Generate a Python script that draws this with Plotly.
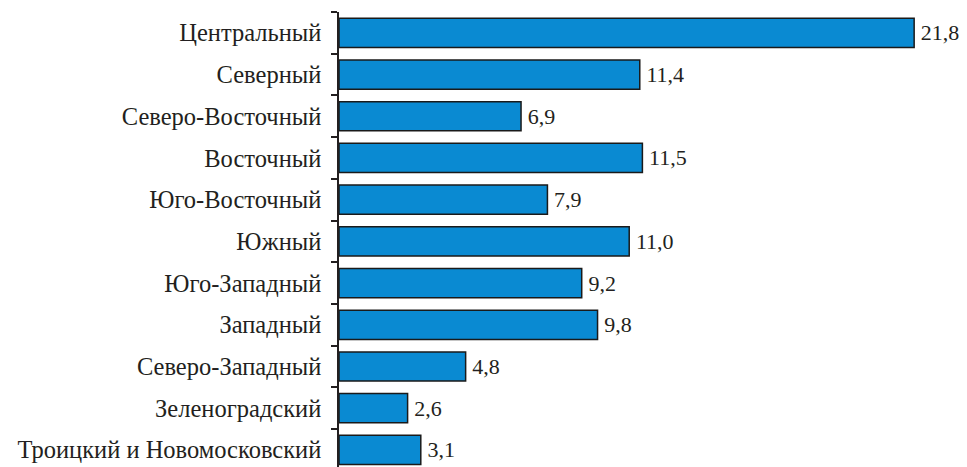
import plotly.graph_objects as go

categories = ["Центральный", "Северный", "Северо-Восточный", "Восточный", "Юго-Восточный",
              "Южный", "Юго-Западный", "Западный", "Северо-Западный", "Зеленоградский",
              "Троицкий и Новомосковский"]
values = [21.8, 11.4, 6.9, 11.5, 7.9, 11.0, 9.2, 9.8, 4.8, 2.6, 3.1]
labels = ["\u2006" + f"{v:.1f}".replace(".", ",") for v in values]

font = "Liberation Serif"

fig = go.Figure(go.Bar(
    y=categories, x=values, orientation="h",
    text=labels, textposition="outside", cliponaxis=False,
    textfont=dict(family=font, size=22, color="#231f20"),
    marker=dict(color="#0a8ad2", line=dict(color="#1a1a1a", width=1.5)),
    width=0.7,
))

fig.update_layout(
    width=951, height=459,
    margin=dict(l=331, r=0, t=4, b=0, autoexpand=False),
    paper_bgcolor="white", plot_bgcolor="white",
    showlegend=False,
    font=dict(family=font, size=22, color="#231f20"),
    xaxis=dict(range=[0, 23.5], visible=False, showgrid=False),
    yaxis=dict(
        type="category", range=[10.41, -0.5], automargin=False,
        showline=True, linecolor="#231f20", linewidth=1.5,
        ticks="outside", tickson="boundaries", ticklen=6, tickcolor="#231f20", tickwidth=1.5,
        showgrid=False, ticklabelstandoff=11,
        tickfont=dict(family=font, size=24.5, color="#231f20"),
    ),
)

fig.write_html("out.html")
